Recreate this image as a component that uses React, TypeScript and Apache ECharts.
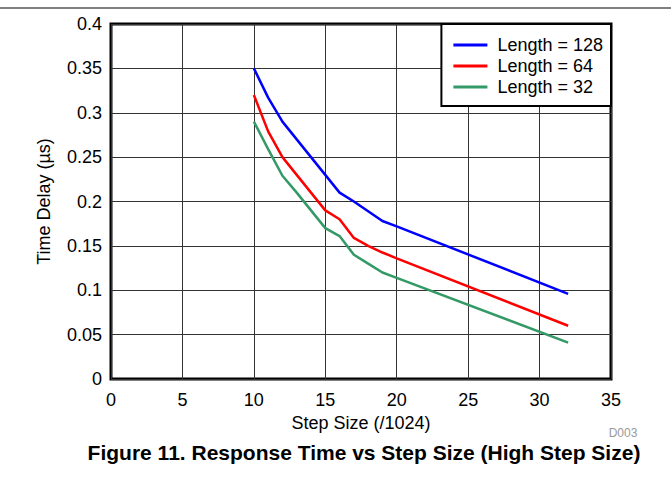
import React, { useEffect, useRef } from "react";
import * as echarts from "echarts";

const stepSizes = [10, 11, 12, 13, 14, 15, 16, 17, 18, 19, 20, 32];
const length128 = [0.35, 0.317, 0.29, 0.27, 0.25, 0.23, 0.21, 0.2, 0.189, 0.178, 0.172, 0.096];
const length64 = [0.32, 0.279, 0.25, 0.23, 0.21, 0.19, 0.18, 0.159, 0.15, 0.1425, 0.136, 0.06];
const length32 = [0.29, 0.259, 0.229, 0.21, 0.19, 0.17, 0.161, 0.14, 0.13, 0.12, 0.114, 0.041];
const seriesNames = ["Length = 128", "Length = 64", "Length = 32"];
const seriesColors = ["#0000FF", "#FF0000", "#339966"];

const FONT = "'Liberation Sans', Arial, sans-serif";

export default function App() {
  const ref = useRef<HTMLDivElement>(null);
  useEffect(() => {
    document.body.style.margin = "0";
    const chart = echarts.init(ref.current!, null, { renderer: "svg" });
    const values = [length128, length64, length32];
    chart.setOption({
      animation: false,
      textStyle: { fontFamily: FONT },
      title: {
        text: "Figure 11. Response Time vs Step Size (High Step Size)",
        left: 364,
        textAlign: "center",
        top: 442,
        padding: 0,
        textStyle: { fontFamily: FONT, fontSize: 21, fontWeight: "bold", color: "#000" },
      },
      grid: {
        left: 111,
        right: 60,
        top: 24,
        bottom: 101,
        show: true,
        borderColor: "#000",
        borderWidth: 3,
        backgroundColor: "#fff",
      },
      legend: {
        data: seriesNames,
        orient: "vertical",
        right: 60,
        top: 24,
        icon: "rect",
        backgroundColor: "#fff",
        borderColor: "#000",
        borderWidth: 2,
        borderRadius: 0,
        padding: [12, 8, 10, 12],
        itemGap: 3,
        itemWidth: 34,
        itemHeight: 3,
        textStyle: { fontFamily: FONT, fontSize: 18, color: "#000", padding: [0, 0, 0, 5] },
      },
      xAxis: {
        type: "value",
        min: 0,
        max: 35,
        interval: 5,
        name: "Step Size (/1024)",
        nameLocation: "middle",
        nameGap: 35,
        nameTextStyle: { fontFamily: FONT, fontSize: 18, color: "#000" },
        axisLine: { show: false },
        axisTick: { show: false },
        axisLabel: { fontFamily: FONT, fontSize: 18, color: "#000", margin: 12 },
        splitLine: { show: true, lineStyle: { color: "#333", width: 1 } },
      },
      yAxis: {
        type: "value",
        min: 0,
        max: 0.4,
        interval: 0.05,
        name: "Time Delay (µs)",
        nameLocation: "middle",
        nameGap: 58,
        nameTextStyle: { fontFamily: FONT, fontSize: 18, color: "#000" },
        axisLine: { show: false },
        axisTick: { show: false },
        axisLabel: {
          fontFamily: FONT,
          fontSize: 18,
          color: "#000",
          margin: 9,
          formatter: (v: number) => String(+v.toFixed(2)),
        },
        splitLine: { show: true, lineStyle: { color: "#333", width: 1 } },
      },
      series: seriesNames.map((name, i) => ({
        name,
        type: "line",
        symbol: "none",
        color: seriesColors[i],
        lineStyle: { width: 2.5, color: seriesColors[i] },
        data: stepSizes.map((x, j) => [x, values[i][j]]),
      })),
      graphic: [
        {
          type: "line",
          shape: { x1: 0, y1: 8, x2: 671, y2: 8 },
          style: { stroke: "#000", lineWidth: 1 },
        },
        {
          type: "text",
          x: 623,
          y: 433,
          style: { text: "D003", fill: "#999", font: `12px ${FONT}`, textAlign: "center", textVerticalAlign: "middle" },
        },
      ],
    });
    return () => chart.dispose();
  }, []);
  return <div ref={ref} style={{ width: 671, height: 480 }} />;
}
